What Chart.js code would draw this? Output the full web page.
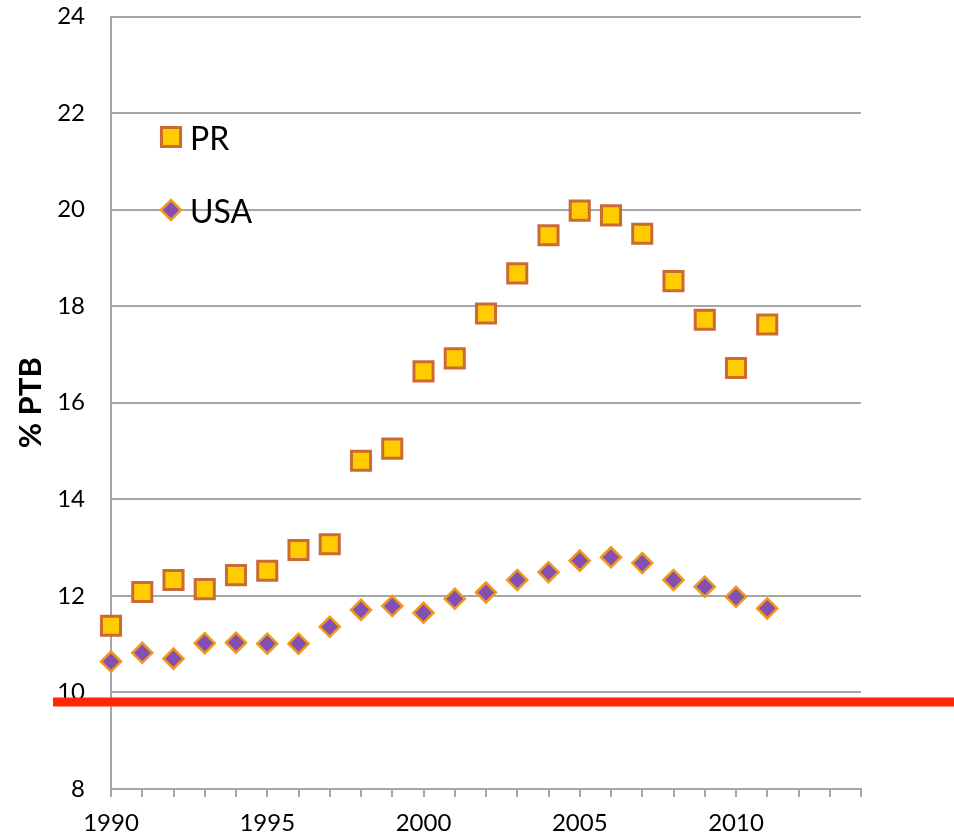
<!DOCTYPE html>
<html lang="en">
<head>
  <meta charset="UTF-8">
  <title>% PTB - PR vs USA</title>
  <style>
    body {
      margin: 0;
      background: #ffffff;
    }
    .wrap {
      width: 954px;
      height: 837px;
    }
  </style>
</head>
<body>
  <div class="wrap">
    <canvas id="ptb-chart"></canvas>
  </div>

  <script src="https://cdn.jsdelivr.net/npm/chart.js"></script>
  <script>
    // values
    const years = [1990, 1991, 1992, 1993, 1994, 1995, 1996, 1997, 1998, 1999, 2000,
                   2001, 2002, 2003, 2004, 2005, 2006, 2007, 2008, 2009, 2010, 2011];
    const prValues = [11.38, 12.08, 12.33, 12.14, 12.43, 12.52, 12.95, 13.07, 14.8, 15.05, 16.65,
                      16.92, 17.85, 18.68, 19.47, 19.98, 19.88, 19.5, 18.52, 17.72, 16.72, 17.62];
    const usaValues = [10.64, 10.82, 10.7, 11.02, 11.03, 11.01, 11.01, 11.36, 11.71, 11.79, 11.65,
                       11.94, 12.07, 12.33, 12.49, 12.73, 12.8, 12.68, 12.33, 12.19, 11.98, 11.74];
    const seriesNames = ["PR", "USA"];
    const yTitle = "% PTB";
    const xMin = 1990, xMax = 2014;
    const yMin = 8, yMax = 24, yStep = 2;
    const redLevel = 9.8;

    const font = "Lato, 'Open Sans', sans-serif";

    const prStyle = { pointStyle: "rect", radius: 13.5, bg: "#FFCC00", border: "#CB6A35", width: 3 };
    const usaStyle = { pointStyle: "rectRot", radius: 10, bg: "#8250B0", border: "#F0981E", width: 2.5 };

    function toPoints(values) {
      return years.map((y, i) => ({ x: y, y: values[i] }));
    }

    // red reference line, runs past the plot on both sides
    const redLine = {
      id: "redLine",
      afterDatasetsDraw(chart) {
        const ctx = chart.ctx;
        const y = chart.scales.y.getPixelForValue(redLevel);
        ctx.save();
        ctx.strokeStyle = "#FF2600";
        ctx.lineWidth = 9;
        ctx.beginPath();
        ctx.moveTo(53, y);
        ctx.lineTo(chart.width, y);
        ctx.stroke();
        ctx.restore();
      }
    };

    // legend inside the plot, top left
    const insideLegend = {
      id: "insideLegend",
      afterDraw(chart) {
        const ctx = chart.ctx;
        const styles = [prStyle, usaStyle];
        const rows = [137, 210];
        ctx.save();
        styles.forEach((s, i) => {
          ctx.fillStyle = s.bg;
          ctx.strokeStyle = s.border;
          ctx.lineWidth = s.width;
          Chart.helpers.drawPoint(ctx, { pointStyle: s.pointStyle, radius: s.radius, borderWidth: s.width }, 171, rows[i]);
          ctx.fillStyle = "#000000";
          ctx.font = "32px " + font;
          ctx.textBaseline = "middle";
          ctx.fillText(seriesNames[i], 190, rows[i] + 3);
        });
        ctx.restore();
      }
    };

    const ctx = document.getElementById("ptb-chart").getContext("2d");

    new Chart(ctx, {
      type: "scatter",
      data: {
        datasets: [
          {
            label: seriesNames[0],
            data: toPoints(prValues),
            pointStyle: prStyle.pointStyle,
            pointRadius: prStyle.radius,
            pointHoverRadius: prStyle.radius,
            backgroundColor: prStyle.bg,
            borderColor: prStyle.border,
            borderWidth: prStyle.width,
            clip: false
          },
          {
            label: seriesNames[1],
            data: toPoints(usaValues),
            pointStyle: usaStyle.pointStyle,
            pointRadius: usaStyle.radius,
            pointHoverRadius: usaStyle.radius,
            backgroundColor: usaStyle.bg,
            borderColor: usaStyle.border,
            borderWidth: usaStyle.width,
            clip: false
          }
        ]
      },
      options: {
        responsive: true,
        maintainAspectRatio: false,
        animation: false,
        layout: {
          padding: { top: 14, right: 93, left: 0, bottom: 0 }
        },
        plugins: {
          legend: { display: false },
          tooltip: { enabled: false }
        },
        scales: {
          x: {
            type: "linear",
            min: xMin,
            max: xMax,
            afterFit(scale) {
              scale.height = 48;
              scale.paddingLeft = 0;
              scale.paddingRight = 0;
            },
            ticks: {
              stepSize: 1,
              autoSkip: false,
              maxRotation: 0,
              padding: 12,
              color: "#000000",
              font: { family: font, size: 24 },
              callback: (v) => (v % 5 === 0 ? String(v) : "")
            },
            grid: {
              drawOnChartArea: false,
              drawTicks: true,
              tickLength: 8,
              color: "#A6A6A6",
              lineWidth: 2
            },
            border: { color: "#A6A6A6", width: 2 }
          },
          y: {
            min: yMin,
            max: yMax,
            afterFit(scale) {
              scale.width = 111;
              scale.paddingTop = 0;
              scale.paddingBottom = 0;
            },
            ticks: {
              stepSize: yStep,
              padding: 26,
              color: "#000000",
              font: { family: font, size: 24 }
            },
            grid: {
              drawTicks: false,
              color: "#A6A6A6",
              lineWidth: 2
            },
            border: { color: "#A6A6A6", width: 2 },
            title: {
              display: true,
              text: yTitle,
              color: "#000000",
              font: { family: font, size: 31, weight: "bold" },
              padding: { top: 12, bottom: 0 }
            }
          }
        }
      },
      plugins: [redLine, insideLegend]
    });
  </script>
</body>
</html>
